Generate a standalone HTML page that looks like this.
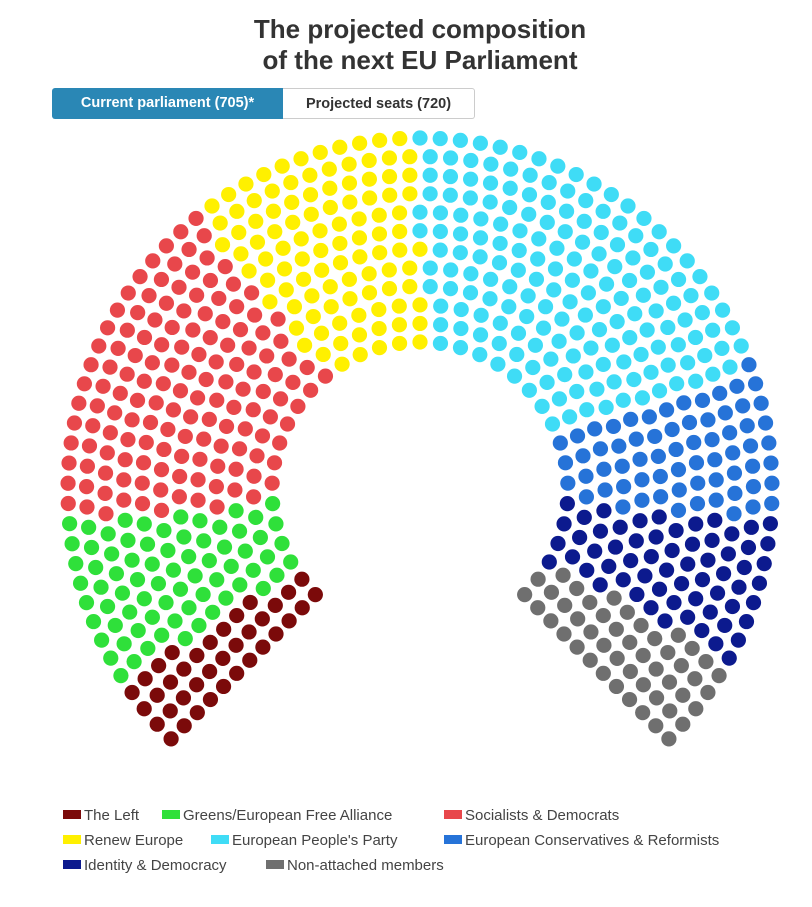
<!DOCTYPE html>
<html><head><meta charset="utf-8"><style>
body{margin:0;background:#fff;width:812px;height:907px;overflow:hidden;position:relative;font-family:"Liberation Sans",sans-serif}
#title{position:absolute;left:0;width:840px;top:14px;text-align:center;font-weight:bold;font-size:26px;line-height:31px;color:#333}
.btn{position:absolute;top:88px;height:31px;line-height:31px;font-weight:bold;font-size:14.5px;box-sizing:border-box;text-align:center}
#b1{left:52px;width:231px;background:#2a87b5;color:#fff;border-radius:3px 0 0 3px}
#b2{left:283px;width:192px;background:#fff;color:#333;border:1px solid #ccc;border-left:none;border-radius:0 3px 3px 0}
.lg{position:absolute;font-size:15px;color:#444;line-height:18px;white-space:nowrap}
.lg i{display:inline-block;width:18px;height:9px;margin-right:3px;vertical-align:1px}
</style></head><body>
<div id="title">The projected composition<br>of the next EU Parliament</div>
<div class="btn" id="b1">Current parliament (705)*</div>
<div class="btn" id="b2">Projected seats (720)</div>
<svg id="chart" width="812" height="907" style="position:absolute;left:0;top:0"></svg>
<div id="legend"></div>
<script>
const parties=["The Left","Greens/European Free Alliance","Socialists & Democrats","Renew Europe","European People's Party","European Conservatives & Reformists","Identity & Democracy","Non-attached members"];
const seats=[37,72,143,101,177,66,62,47];
const colors=["#7b0a0a","#2fe03a","#e8474b","#fff000","#3fdcf6","#2673d8","#0c1a8e","#6f6f6f"];
const legendX=[63,162,444,63,211,444,63,266];
const legendRow=[0,0,0,1,1,1,2,2];
const cx=420,cy=490,rIn=148,rOut=352,rows=12,dotR=7.6;
const total=seats.reduce((a,b)=>a+b,0);
const svg=document.getElementById('chart');
const NS='http://www.w3.org/2000/svg';
let radii=[],sumR=0;
for(let i=0;i<rows;i++){const r=rIn+i*(rOut-rIn)/(rows-1);radii.push(r);sumR+=r;}
let counts=radii.map(r=>Math.round(total*r/sumR));
let diff=total-counts.reduce((a,b)=>a+b,0);
let k=rows-1;while(diff!==0){counts[k]+=diff>0?1:-1;diff+=diff>0?-1:1;k=(k-1+rows)%rows;}
let pts=[];
for(let i=0;i<rows;i++){for(let j=0;j<counts[i];j++){const a=-135+270*j/(counts[i]-1);pts.push({a:a,r:radii[i]});}}
pts.sort((p,q)=>p.a-q.a||p.r-q.r);
let idx=0;
seats.forEach((n,p)=>{for(let s=0;s<n;s++){const pt=pts[idx++];const rad=pt.a*Math.PI/180;
const c=document.createElementNS(NS,'circle');
c.setAttribute('cx',cx+pt.r*Math.sin(rad));c.setAttribute('cy',cy-pt.r*Math.cos(rad));c.setAttribute('r',dotR);c.setAttribute('fill',colors[p]);


svg.appendChild(c);}});
const lg=document.getElementById('legend');
parties.forEach((name,p)=>{const d=document.createElement('div');d.className='lg';
d.style.left=legendX[p]+'px';d.style.top=(807+legendRow[p]*25)+'px';
d.innerHTML='<i style="background:'+colors[p]+'"></i>'+name.replace('&','&amp;');


lg.appendChild(d);});
</script>
</body></html>
